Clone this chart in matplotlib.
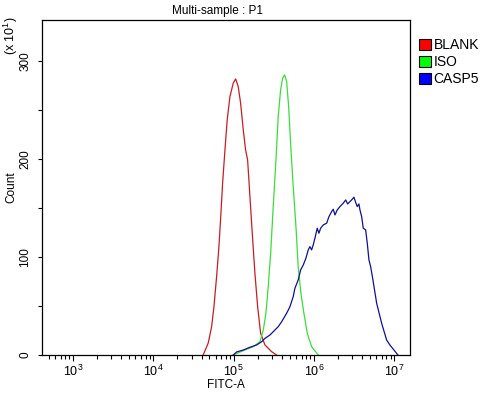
import matplotlib
matplotlib.use("Agg")
import matplotlib.pyplot as plt
from matplotlib.patches import Patch
from matplotlib.ticker import FixedLocator, NullFormatter
import numpy as np

plt.rcParams['font.family'] = ['Liberation Sans', 'DejaVu Sans']
plt.rcParams['mathtext.fontset'] = 'custom'
plt.rcParams['mathtext.rm'] = 'Liberation Sans'
plt.rcParams['mathtext.it'] = 'Liberation Sans:italic'
plt.rcParams['mathtext.bf'] = 'Liberation Sans:bold'

# ---- data (log10 FITC-A, count in units of 10) ----
blank_log = [4.621, 4.684, 4.726, 4.755, 4.788, 4.817, 4.842, 4.863, 4.892, 4.920,
             4.954, 4.995, 5.025, 5.057, 5.087, 5.120, 5.149, 5.174, 5.203, 5.232,
             5.265, 5.299, 5.336, 5.390, 5.473, 5.535]
blank_cnt = [0, 12.3, 28.9, 49.3, 80.0, 110.6, 145.0, 175.7, 209.4, 240.0,
             263.8, 277.5, 281.9, 274.1, 257.1, 229.8, 209.4, 199.2, 161.7, 124.3,
             83.5, 49.3, 22.2, 10.2, 3.4, 0]

iso_log = [4.995, 5.120, 5.244, 5.328, 5.369, 5.402, 5.431, 5.461, 5.493, 5.527,
           5.555, 5.585, 5.610, 5.635, 5.660, 5.685, 5.714, 5.742, 5.776, 5.804,
           5.838, 5.875, 5.917, 5.971, 6.054]
iso_cnt = [0, 4.4, 8.5, 13.6, 25.5, 42.6, 69.8, 103.9, 151.5, 199.2,
           243.4, 270.7, 282.6, 286.0, 279.2, 253.6, 209.4, 171.9, 131.1, 90.2,
           63.0, 42.6, 22.2, 8.5, 0]

casp5_log = [4.995, 5.037, 5.120, 5.203, 5.286, 5.349, 5.390, 5.452, 5.514, 5.555,
             5.598, 5.660, 5.701, 5.742, 5.763, 5.804, 5.834, 5.867, 5.900, 5.929,
             5.950, 5.971, 5.991, 6.012, 6.041, 6.062, 6.083, 6.116, 6.158, 6.187,
             6.220, 6.240, 6.262, 6.290, 6.324, 6.365, 6.395, 6.420, 6.448, 6.469,
             6.498, 6.523, 6.539, 6.560, 6.573, 6.594, 6.614, 6.644, 6.664, 6.685,
             6.706, 6.731, 6.751, 6.781, 6.843, 6.905, 6.946, 6.996, 7.046]
casp5_cnt = [0, 3.1, 5.1, 7.9, 10.2, 13.6, 17.0, 20.4, 25.5, 28.9,
             34.0, 42.6, 49.3, 59.6, 68.1, 76.6, 86.8, 91.9, 98.8, 107.3,
             110.6, 107.3, 112.4, 119.2, 129.4, 124.3, 129.4, 132.8, 134.5, 141.3,
             146.4, 148.8, 143.0, 148.1, 151.5, 155.0, 158.3, 154.2, 156.6, 158.3,
             161.1, 155.0, 151.5, 154.2, 148.1, 141.3, 129.4, 127.7, 114.1, 97.0,
             90.2, 78.3, 68.1, 52.8, 32.4, 15.3, 10.2, 5.1, 0]

series_names = ["BLANK", "ISO", "CASP5"]
line_colors = ["#c41e24", "#3ddc3d", "#101090"]
legend_colors = ["#ff0000", "#00ff00", "#0000ff"]

x_major = [1e3, 1e4, 1e5, 1e6, 1e7]
x_major_labels = [r"$10^{3}$", r"$10^{4}$", r"$10^{5}$", r"$10^{6}$", r"$10^{7}$"]
y_major = [0, 100, 200, 300]
y_minor = [50, 150, 250]

W, H = 498, 393
fig = plt.figure(figsize=(W / 100, H / 100), dpi=100)
ax = fig.add_axes([42 / W, 1 - 355 / H, 368 / W, 335 / H])

for lg, ct, c in zip([blank_log, iso_log, casp5_log],
                     [blank_cnt, iso_cnt, casp5_cnt], line_colors):
    ax.plot(10 ** np.array(lg), ct, color=c, lw=0.9)

ax.set_xscale('log')
ax.set_xlim(10 ** 2.614, 10 ** 7.196)
ax.set_ylim(0, 342)

ax.xaxis.set_major_locator(FixedLocator(x_major))
ax.set_xticklabels(x_major_labels, fontsize=9)
minors = [m * 10 ** d for d in range(2, 8) for m in range(2, 10)]
ax.xaxis.set_minor_locator(FixedLocator(minors))
ax.xaxis.set_minor_formatter(NullFormatter())
ax.tick_params(axis='x', which='major', direction='out', length=4.5, width=0.8, pad=1.5)
ax.tick_params(axis='x', which='minor', direction='out', length=2.8, width=0.8)

ax.set_yticks(y_major)
ax.set_yticks(y_minor, minor=True)
ax.set_yticklabels([str(v) for v in y_major], fontsize=8.5, rotation=90, va='center')
ax.tick_params(axis='y', which='both', direction='out', length=2.8, width=0.8, pad=5)

for s in ax.spines.values():
    s.set_linewidth(0.9)
    s.set_color('black')

fig.text(217 / W, 1 - 11 / H, "Multi-sample : P1", ha='center', va='center', fontsize=8.5)
fig.text(226 / W, 1 - 385 / H, "FITC-A", ha='center', va='center', fontsize=8.5)
fig.text(11 / W, 1 - 187 / H, "Count", ha='center', va='center', rotation=90, fontsize=8.5)
fig.text(10.5 / W, 1 - 36 / H, r"(x 10$^{1}$)", ha='center', va='center', rotation=90, fontsize=9)

handles = [Patch(facecolor=c, edgecolor='black', linewidth=0.8) for c in legend_colors]
fig.legend(handles, series_names, loc='upper left', bbox_to_anchor=(419 / W, 1 - 38 / H),
           frameon=False, fontsize=10, borderpad=0, borderaxespad=0,
           handlelength=0.86, handleheight=0.86, handletextpad=0.2, labelspacing=0.22)

fig.savefig("out.png", dpi=100)
